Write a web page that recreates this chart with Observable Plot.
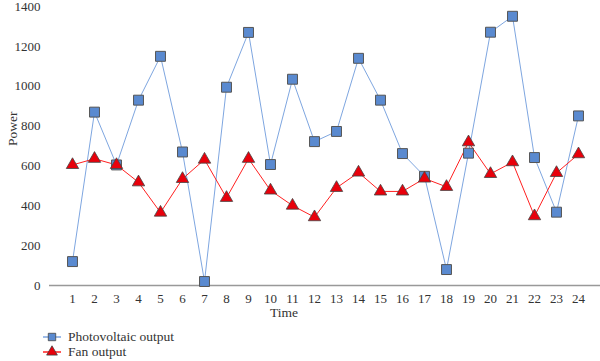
<!DOCTYPE html>
<html>
<head>
<meta charset="utf-8">
<script src="https://cdn.jsdelivr.net/npm/d3@7"></script>
<script src="https://cdn.jsdelivr.net/npm/@observablehq/plot@0.6"></script>
<style>
  html, body { margin: 0; padding: 0; background: #fff; }
  body { width: 600px; height: 361px; overflow: hidden; }
  .row { display: flex; align-items: center; height: 15px; }
  .row svg { margin-right: 7px; }
</style>
</head>
<body>
<div id="chart"></div>
<div id="legend"></div>
<script>
const times = ["1","2","3","4","5","6","7","8","9","10","11","12","13","14","15","16","17","18","19","20","21","22","23","24"];
const photovoltaic = [120, 870, 605, 930, 1150, 670, 20, 995, 1270, 607, 1035, 722, 773, 1140, 930, 662, 548, 80, 664, 1271, 1351, 642, 368, 851];
const fan = [605, 636, 605, 518, 366, 535, 632, 440, 636, 477, 401, 343, 490, 567, 472, 472, 537, 495, 719, 560, 619, 348, 565, 659];
const yTicks = [0, 200, 400, 600, 800, 1000, 1200, 1400];
const seriesNames = ["Photovoltaic output", "Fan output"];

const pvData = times.map((t, i) => ({time: t, value: photovoltaic[i]}));
const fanData = times.map((t, i) => ({time: t, value: fan[i]}));

const pvLine = "#7ea6e0", pvFill = "#5a8ad0";
const fanLine = "#ff2020", fanFill = "#e8000b";
const serif = "'Liberation Serif', 'DejaVu Serif', serif";

const chart = Plot.plot({
  width: 600,
  height: 326,
  marginLeft: 49,
  marginRight: 0,
  marginTop: 6,
  marginBottom: 41,
  style: {fontFamily: serif, fontSize: "12.5px", color: "#333"},
  x: {type: "point", domain: times, padding: 0.5, range: [49, 600]},
  y: {domain: [0, 1400]},
  marks: [
    Plot.ruleY([0], {stroke: "#999", strokeWidth: 1.5}),
    Plot.axisY({ticks: yTicks, tickFormat: d3.format("d"), tickSize: 0, tickPadding: 9, label: null, fontSize: 13}),
    Plot.axisX({tickSize: 0, tickPadding: 8, label: null, fontSize: 13}),
    Plot.text(["Power"], {frameAnchor: "left", rotate: -90, dx: -37, fontSize: 13.5, fill: "#333"}),
    Plot.text(["Time"], {frameAnchor: "bottom", dx: -41, dy: 31, fontSize: 13.5, fill: "#333"}),
    Plot.line(pvData, {x: "time", y: "value", stroke: pvLine, strokeWidth: 1}),
    Plot.line(fanData, {x: "time", y: "value", stroke: fanLine, strokeWidth: 1}),
    Plot.dot(pvData, {x: "time", y: "value", symbol: "square", r: 5.6, fill: pvFill, stroke: "#555", strokeWidth: 1}),
    Plot.dot(fanData, {x: "time", y: "value", symbol: "triangle", r: 4.6, fill: fanFill, stroke: "#444", strokeWidth: 0.8})
  ]
});
document.getElementById("chart").appendChild(chart);

const legend = document.getElementById("legend");
legend.style.marginLeft = "43px";
legend.style.marginTop = "3px";
legend.style.fontFamily = serif;
legend.style.fontSize = "13.5px";
legend.style.color = "#333";
const legendItems = [
  {name: seriesNames[0], line: pvLine, fill: pvFill, symbol: d3.symbolSquare, size: 55},
  {name: seriesNames[1], line: fanLine, fill: fanFill, symbol: d3.symbolTriangle, size: 50}
];
legendItems.forEach(it => {
  const row = document.createElement("div");
  row.className = "row";
  const svg = d3.create("svg").attr("width", 18).attr("height", 14);
  svg.append("line").attr("x1", 0).attr("x2", 18).attr("y1", 7).attr("y2", 7).attr("stroke", it.line).attr("stroke-width", 1.5);
  svg.append("path").attr("d", d3.symbol(it.symbol, it.size)()).attr("transform", "translate(9,7)").attr("fill", it.fill).attr("stroke", "#444").attr("stroke-width", 0.8);
  row.appendChild(svg.node());
  const span = document.createElement("span");
  span.style.fontFamily = serif;
  span.textContent = it.name;
  row.appendChild(span);
  legend.appendChild(row);
});
</script>
</body>
</html>
